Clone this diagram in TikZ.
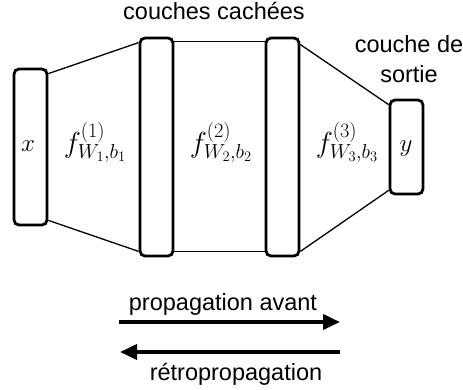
\RequirePackage{fix-cm}
\documentclass[tikz,border=0pt]{standalone}
\usepackage{fontspec}
\setmainfont{Liberation Sans}
\usetikzlibrary{arrows.meta}
\begin{document}
\begin{tikzpicture}[x=1pt,y=-1pt,
  layer/.style={draw,line width=2.8pt,rounded corners=5pt,inner sep=0pt,minimum width=33pt},
  link/.style={line width=1.3pt},
  lbl/.style={font=\fontsize{23.5}{30}\selectfont,inner sep=0pt,anchor=base},
  mlbl/.style={font=\fontsize{25}{25}\selectfont,inner sep=0pt,anchor=base},
  flbl/.style={font=\fontsize{29}{29}\selectfont,inner sep=0pt,anchor=base},
  flow/.style={line width=3.8pt,-{Triangle[length=17pt,width=15pt]}}]
\useasboundingbox (0,0) rectangle (463,390);
\node[layer,minimum height=156pt] (bx) at (30.5,147) {};
\node[layer,minimum height=218pt] (h1) at (156.5,147) {};
\node[layer,minimum height=218pt] (h2) at (282.5,147) {};
\node[layer,minimum height=94pt] (by) at (406.5,147) {};
\draw[link] ([yshift=-6pt]bx.north east) -- ([yshift=-6pt]h1.north west);
\draw[link] ([yshift=6pt]bx.south east) -- ([yshift=6pt]h1.south west);
\draw[link] ([yshift=-5pt]h1.north east) -- ([yshift=-5pt]h2.north west);
\draw[link] ([yshift=6pt]h1.south east) -- ([yshift=6pt]h2.south west);
\draw[link] ([yshift=-8pt]h2.north east) -- ([yshift=-6pt]by.north west);
\draw[link] ([yshift=6pt]h2.south east) -- ([yshift=5pt]by.south west);
\node[mlbl] (lx) at (28,152) {$x$};
\node[mlbl] (ly) at (406,152) {$y$};
\node[flbl] (f1) at (95,153) {$f^{(1)}_{W_1,b_1}$};
\node[flbl] (f2) at (221,153) {$f^{(2)}_{W_2,b_2}$};
\node[flbl] (f3) at (347,153) {$f^{(3)}_{W_3,b_3}$};
\node[lbl] (hid) at (214,19.5) {couches cachées};
\node[lbl,align=center] (out) at (409,83) {couche de\\sortie};
\coordinate (fa) at (119,322);
\coordinate (fb) at (340,322);
\coordinate (ba) at (340,352);
\coordinate (bb) at (120,352);
\draw[flow] (fa) -- (fb);
\draw[flow] (ba) -- (bb);
\node[lbl] (fwd) at (223,310) {propagation avant};
\node[lbl] (bwd) at (236,380) {rétropropagation};
\end{tikzpicture}
\end{document}
